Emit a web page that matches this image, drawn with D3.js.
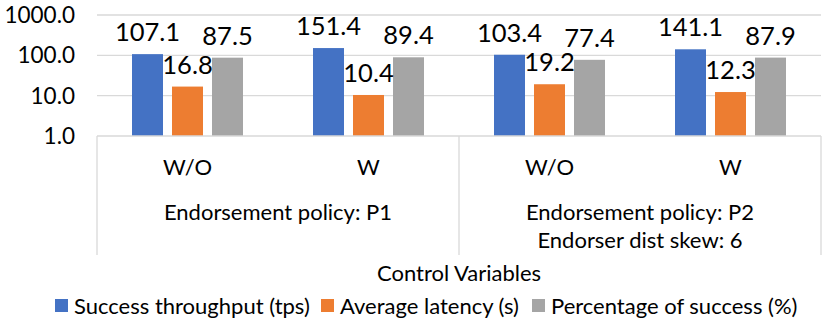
<!DOCTYPE html>
<html>
<head>
<meta charset="utf-8">
<script src="https://cdn.jsdelivr.net/npm/d3@7"></script>
<style>
  body { margin: 0; background: #fff; }
  text { font-family: Lato, "Open Sans", sans-serif; fill: #000; }
</style>
</head>
<body>
<div id="chart"></div>
<script>
// data
const categories = ["W/O", "W", "W/O", "W"];
const groupLabels = [["Endorsement policy: P1"], ["Endorsement policy: P2", "Endorser dist skew: 6"]];
const seriesNames = ["Success throughput (tps)", "Average latency (s)", "Percentage of success (%)"];
const throughput = [107.1, 151.4, 103.4, 141.1];
const latency = [16.8, 10.4, 19.2, 12.3];
const successPct = [87.5, 89.4, 77.4, 87.9];
const yTicks = [1, 10, 100, 1000];
const colors = ["#4472C4", "#ED7D31", "#A5A5A5"];

const W = 831, H = 320;
const plotLeft = 97, plotRight = 821, plotTop = 15, plotBottom = 136;

let svg = d3.select("#chart").append("svg")
  .attr("width", W).attr("height", H);

let y = d3.scaleLog().domain([1, 1000]).range([plotBottom, plotTop]);
let x0 = d3.scaleBand().domain(d3.range(categories.length)).range([plotLeft, plotRight]).padding(0);
let x1 = d3.scaleBand().domain(d3.range(seriesNames.length)).range([0, 111]).paddingInner(0.225).paddingOuter(0);

// gridlines
svg.append("g").selectAll("line")
  .data(yTicks.slice(1))
  .enter().append("line")
    .attr("x1", plotLeft).attr("x2", plotRight)
    .attr("y1", d => y(d)).attr("y2", d => y(d))
    .style("stroke", "#d9d9d9").style("stroke-width", 1.3);

// y tick labels
svg.append("g").selectAll("text")
  .data(yTicks)
  .enter().append("text")
    .attr("x", 75).attr("y", d => y(d))
    .attr("text-anchor", "end").attr("dy", "0.35em")
    .style("font-size", "22.5px")
    .text(d => d3.format(".1f")(d));

let series = [throughput, latency, successPct];
let data = [];
series.forEach((vals, s) => vals.forEach((v, i) => data.push({ s: s, i: i, v: v })));

let barX = d => x0(d.i) + (x0.bandwidth() - 111) / 2 + x1(d.s);

svg.append("g").selectAll("rect")
  .data(data)
  .enter().append("rect")
    .attr("x", barX)
    .attr("y", d => y(d.v))
    .attr("width", x1.bandwidth())
    .attr("height", d => plotBottom - y(d.v))
    .style("fill", d => colors[d.s]);

// value labels
svg.append("g").selectAll("text")
  .data(data)
  .enter().append("text")
    .attr("x", d => barX(d) + x1.bandwidth() / 2)
    .attr("y", d => y(d.v) - 13)
    .attr("text-anchor", "middle")
    .style("font-size", "25.5px")
    .text(d => d3.format(".1f")(d.v));

// category axis box
let axisCol = "#d9d9d9";
svg.append("line").attr("x1", plotLeft).attr("x2", plotRight).attr("y1", plotBottom).attr("y2", plotBottom)
  .style("stroke", axisCol).style("stroke-width", 1.3);
[plotLeft, x0(2), plotRight].forEach(px => {
  svg.append("line").attr("x1", px).attr("x2", px).attr("y1", plotBottom).attr("y2", 255)
    .style("stroke", axisCol).style("stroke-width", 1.3);
});

svg.append("g").selectAll("text")
  .data(categories)
  .enter().append("text")
    .attr("x", (d, i) => x0(i) + x0.bandwidth() / 2)
    .attr("y", 167).attr("dy", "0.35em")
    .attr("text-anchor", "middle")
    .style("font-size", "22px")
    .text(d => d);

groupLabels.forEach((lines, g) => {
  let cx = x0(g * 2) + x0.bandwidth();
  lines.forEach((t, k) => {
    svg.append("text")
      .attr("x", cx).attr("y", 212 + k * 28).attr("dy", "0.35em")
      .attr("text-anchor", "middle")
      .style("font-size", "22px")
      .text(t);
  });
});

svg.append("text")
  .attr("x", (plotLeft + plotRight) / 2).attr("y", 273).attr("dy", "0.35em")
  .attr("text-anchor", "middle")
  .style("font-size", "22px")
  .text("Control Variables");

// legend
let legendX = [55, 321, 532];
let legend = svg.append("g").selectAll("g")
  .data(seriesNames)
  .enter().append("g")
    .attr("transform", (d, i) => "translate(" + legendX[i] + ",306)");
legend.append("rect")
  .attr("x", 0).attr("y", -7).attr("width", 13).attr("height", 13)
  .style("fill", (d, i) => colors[i]);
legend.append("text")
  .attr("x", 19).attr("dy", "0.35em")
  .style("font-size", "22px")
  .text(d => d);
</script>
</body>
</html>
